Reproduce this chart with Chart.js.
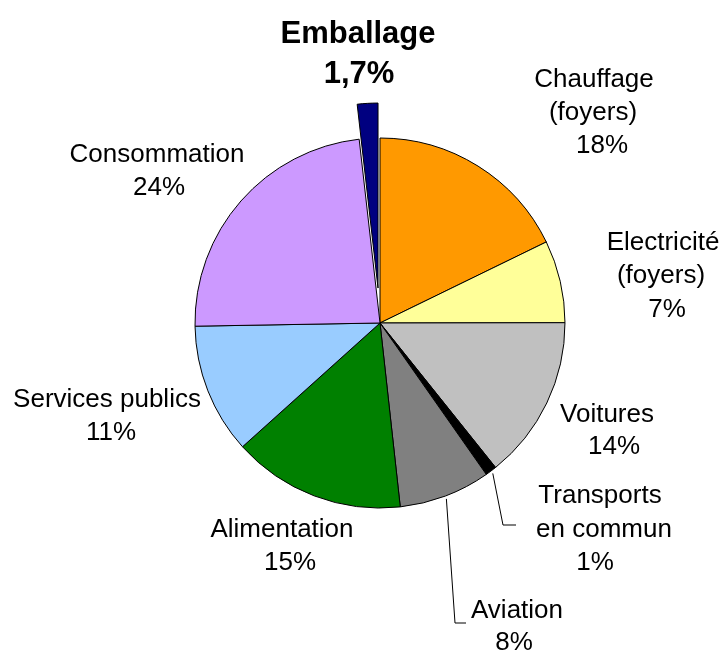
<!DOCTYPE html>
<html>
<head>
<meta charset="utf-8">
<script src="https://cdn.jsdelivr.net/npm/chart.js@4/dist/chart.umd.min.js"></script>
<style>
  html, body { margin: 0; padding: 0; background: #ffffff; }
  #wrap { width: 723px; height: 653px; position: relative; }
</style>
</head>
<body>
<div id="wrap"><canvas id="c"></canvas></div>
<script>
// ---- data ----
const categories = ['Chauffage (foyers)', 'Electricité (foyers)', 'Voitures', 'Transports en commun', 'Aviation', 'Alimentation', 'Services publics', 'Consommation', 'Emballage'];
// slice sizes (labels show rounded percentages)
const values = [17.8, 7.2, 14.3, 1, 8, 15.1, 11.4, 23.5, 1.8];
const percentLabels = ['18%', '7%', '14%', '1%', '8%', '15%', '11%', '24%', '1,7%'];
const nameLines = [['Chauffage', '(foyers)'], ['Electricité', '(foyers)'], ['Voitures'], ['Transports', 'en commun'], ['Aviation'], ['Alimentation'], ['Services publics'], ['Consommation'], ['Emballage']];
const sliceColors = ['#FF9900', '#FFFF99', '#C0C0C0', '#000000', '#808080', '#008000', '#99CCFF', '#CC99FF', '#000080'];
const explodedIndex = 8;

// ---- layout / style (not data) ----
const RADIUS = 185;
const EXPLODE = 35;
// per-slice label line positions: [x center, baseline] for each line (name lines then percent)
const labelPos = [
  [[594, 87], [593, 120], [602, 153]],
  [[663, 250], [661, 283], [667, 317]],
  [[607, 422], [614, 454]],
  [[600, 503], [604, 537], [595, 570]],
  [[517, 618], [514, 650]],
  [[282, 537], [290, 570]],
  [[107, 407], [111, 440]],
  [[157, 162], [159, 195]],
  [[358, 43], [359, 83]]
];
// leader lines: slice index -> elbow points after the start on the arc
const leaders = {
  3: [[503, 525], [516, 525]],
  4: [[455, 623], [466, 623]]
};

// move the exploded slice outward along its bisector (keeps its size and angles)
const explodePlugin = {
  id: 'explodeSlice',
  afterDatasetUpdate(chart) {
    const meta = chart.getDatasetMeta(0);
    const el = meta.data[explodedIndex];
    if (!el) return;
    const mid = (el.startAngle + el.endAngle) / 2;
    el.x += Math.cos(mid) * EXPLODE;
    el.y += Math.sin(mid) * EXPLODE;
  }
};

const labelPlugin = {
  id: 'sliceLabels',
  afterDraw(chart) {
    const ctx = chart.ctx;
    const meta = chart.getDatasetMeta(0);
    ctx.save();
    // leader lines
    ctx.strokeStyle = '#000000';
    ctx.lineWidth = 1;
    Object.keys(leaders).forEach(k => {
      const i = +k;
      const el = meta.data[i];
      const mid = (el.startAngle + el.endAngle) / 2;
      const r = RADIUS + 3;
      const sx = el.x + Math.cos(mid) * r;
      const sy = el.y + Math.sin(mid) * r;
      ctx.beginPath();
      ctx.moveTo(sx, sy);
      leaders[i].forEach(p => ctx.lineTo(p[0], p[1]));
      ctx.stroke();
    });
    // texts
    ctx.fillStyle = '#000000';
    ctx.textAlign = 'center';
    ctx.textBaseline = 'alphabetic';
    categories.forEach((c, i) => {
      const lines = nameLines[i].concat([percentLabels[i]]);
      ctx.font = (i === explodedIndex ? 'bold 31px' : '26px') + ' "Liberation Sans", Arial, sans-serif';
      lines.forEach((t, j) => {
        const p = labelPos[i][j];
        ctx.fillText(t, p[0], p[1]);
      });
    });
    ctx.restore();
  }
};

new Chart(document.getElementById('c'), {
  type: 'pie',
  data: {
    labels: categories,
    datasets: [{
      data: values,
      backgroundColor: sliceColors,
      borderColor: '#000000',
      borderWidth: 1,
      hoverOffset: 0,
      radius: RADIUS
    }]
  },
  options: {
    responsive: true,
    maintainAspectRatio: false,
    animation: false,
    events: [],
    layout: { padding: { left: 37, right: 0, top: 0, bottom: 7 } },
    plugins: {
      legend: { display: false },
      tooltip: { enabled: false }
    }
  },
  plugins: [explodePlugin, labelPlugin]
});
</script>
</body>
</html>
